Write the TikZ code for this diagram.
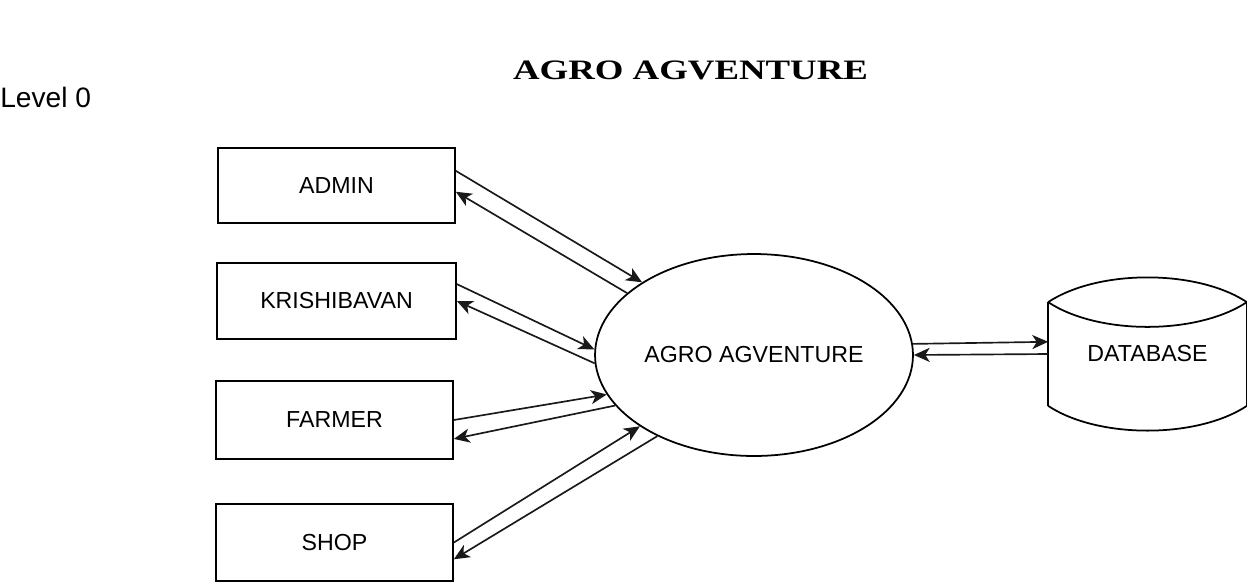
\documentclass[tikz,border=0pt]{standalone}
\usepackage{fontspec}
\setmainfont{Liberation Sans}
\newfontfamily\titlefont[FakeStretch=1.31]{Liberation Serif}
\usetikzlibrary{shapes.geometric, arrows.meta}

\tikzset{
    entity/.style={draw, line width=1pt, inner sep=0pt, font=\fontsize{13.2}{15}\selectfont},
    flow/.style={line width=0.95pt, draw=black!90, -{Stealth[length=9pt,width=8pt,inset=2.5pt]}}
}

\begin{document}
\begin{tikzpicture}[x=0.02cm, y=-0.02cm]
    \useasboundingbox (0,0) rectangle (1247,582);
    \node (title) at (690.5,70){\titlefont\bfseries\fontsize{16}{18}\selectfont AGRO AGVENTURE};
    \node[anchor=west, inner sep=0pt] (level) at (0,97){\fontsize{16}{18}\selectfont Level 0};

    \node[entity, minimum width=4.74cm, minimum height=1.5cm] (admin) at (336.5,185.5){ADMIN};
    \node[entity, minimum width=4.78cm, minimum height=1.52cm] (krishi) at (336.5,301){KRISHIBAVAN};
    \node[entity, minimum width=4.74cm, minimum height=1.56cm] (farmer) at (334.5,420){FARMER};
    \node[entity, minimum width=4.74cm, minimum height=1.54cm] (shop) at (334.5,542.5){SHOP};

    \node[entity, ellipse, minimum width=6.36cm, minimum height=4.04cm] (agro) at (754,355){AGRO AGVENTURE};

    \node[entity, draw=none, minimum width=3.94cm, minimum height=2.04cm] (db) at (1147.5,354){DATABASE};
    \draw[line width=1pt] (db.north west) .. controls +(50,-33) and +(-50,-33) .. (db.north east);
    \draw[line width=1pt] (db.north west) .. controls +(50,33) and +(-50,33) .. (db.north east);
    \draw[line width=1pt] (db.south west) .. controls +(50,33) and +(-50,33) .. (db.south east);
    \draw[line width=1pt] (db.north west) -- (db.south west);
    \draw[line width=1pt] (db.north east) -- (db.south east);

    \draw [flow] (admin.7) -- (agro.147.6);
    \draw [flow] (agro.154.7) -- (admin.-3.6);
    \draw [flow] (krishi.8.6) -- (agro.178.2);
    \draw [flow] (agro.183.6) -- (krishi.-0.5);
    \draw [flow] (farmer.0) -- (agro.195.2);
    \draw [flow] (agro.200) -- (farmer.-9.6);
    \draw [flow] (shop.0.7) -- (agro.212.7);
    \draw [flow] (agro.220.5) -- (shop.-8.9);

    \draw [flow] (agro.4.3) -- (db.173.1);
    \draw [flow] (db.180) -- (agro.0);
\end{tikzpicture}
\end{document}
